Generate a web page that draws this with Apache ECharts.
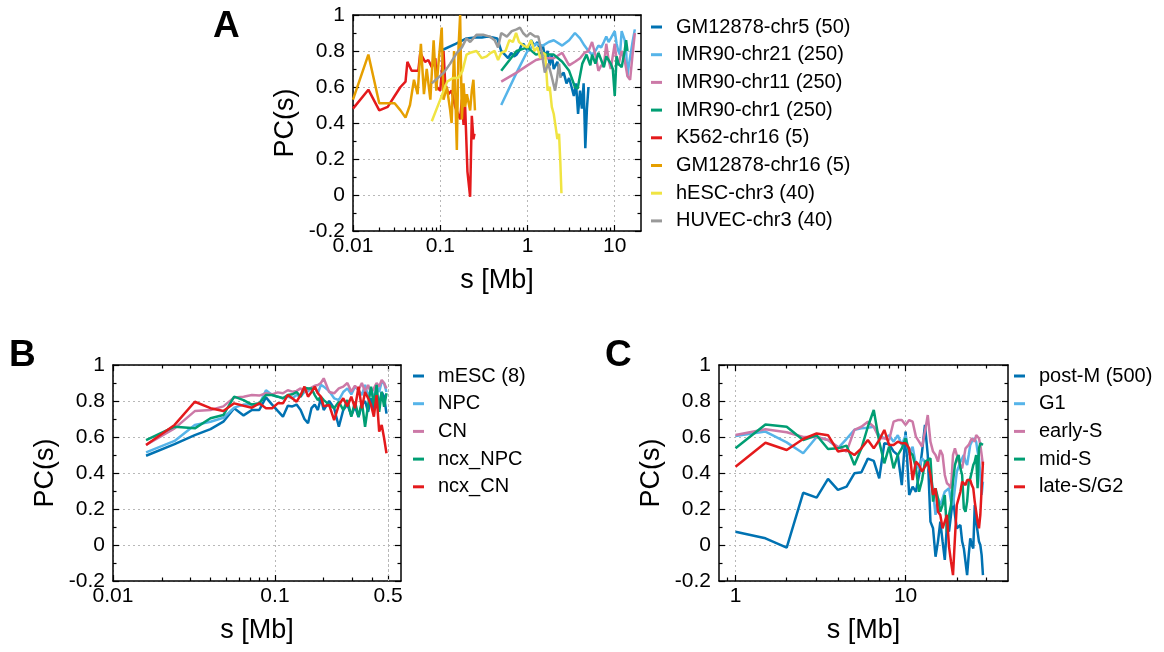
<!DOCTYPE html>
<html>
<head>
<meta charset="utf-8">
<script src="https://cdn.jsdelivr.net/npm/echarts@6/dist/echarts.min.js"></script>
<style>
html,body{margin:0;padding:0;background:#fff;}
#chart{width:1164px;height:652px;}
</style>
</head>
<body>
<div id="chart"></div>
<script>
// ---------- Panel A ----------
const gm5X = [0.10,0.15,0.20,0.25,0.30,0.35,0.40,0.45,0.50,0.55,0.60,0.65,0.70,0.75,0.80,0.85,0.90,0.95,1.00,1.10,1.20,1.30,1.40,1.50,1.60,1.70,1.80,1.90,2.00,2.20,2.40,2.60,2.80,3.00,3.20,3.40,3.60,3.80,4.00,4.20,4.40,4.60,4.80,5.00];
const gm5Y = [0.80,0.84,0.87,0.875,0.875,0.88,0.875,0.87,0.80,0.78,0.76,0.79,0.77,0.78,0.80,0.83,0.84,0.82,0.80,0.86,0.83,0.85,0.80,0.83,0.76,0.80,0.72,0.78,0.70,0.74,0.66,0.68,0.62,0.65,0.60,0.55,0.62,0.45,0.58,0.48,0.62,0.26,0.48,0.60];
const imr21X = [0.5,0.75,1,1.25,1.5,1.75,2,2.5,3,3.5,4,4.5,5,5.5,6,6.5,7,7.5,8,8.5,9,10,10.5,11,11.5,12,13,13.5,14,14.5,15,16,17];
const imr21Y = [0.50,0.68,0.80,0.84,0.83,0.85,0.86,0.83,0.86,0.90,0.87,0.83,0.80,0.78,0.80,0.83,0.82,0.85,0.88,0.85,0.87,0.91,0.84,0.80,0.78,0.91,0.86,0.80,0.66,0.72,0.71,0.85,0.92];
const imr11X = [0.5,0.75,1,1.25,1.5,1.75,2,2.5,3,3.5,4,4.5,5,5.5,6,6.5,7,7.5,8,8.5,9,10,10.5,11,12,13,14,15,16,17];
const imr11Y = [0.63,0.68,0.72,0.75,0.76,0.76,0.76,0.79,0.72,0.74,0.76,0.79,0.80,0.85,0.78,0.69,0.72,0.72,0.84,0.75,0.70,0.84,0.75,0.72,0.80,0.75,0.66,0.64,0.78,0.90];
const imr1X = [0.5,0.75,1,1.25,1.5,1.75,2,2.5,3,3.5,3.75,4.25,4.75,5.25,5.5,6,6.5,7,7.5,8,8.5,9,9.5,10,10.5,11,12,13,13.5,14];
const imr1Y = [0.69,0.80,0.82,0.78,0.79,0.78,0.78,0.74,0.69,0.60,0.59,0.73,0.78,0.72,0.78,0.73,0.79,0.75,0.71,0.77,0.75,0.73,0.70,0.55,0.77,0.73,0.71,0.80,0.86,0.80];
const k562X = [0.010,0.015,0.020,0.025,0.030,0.035,0.040,0.042,0.047,0.052,0.056,0.059,0.067,0.073,0.080,0.088,0.091,0.100,0.109,0.114,0.124,0.135,0.148,0.169,0.177,0.185,0.193,0.205,0.220,0.230,0.240,0.247];
const k562Y = [0.48,0.585,0.47,0.49,0.55,0.60,0.63,0.74,0.69,0.69,0.69,0.79,0.74,0.75,0.71,0.76,0.60,0.58,0.80,0.62,0.56,0.58,0.49,0.42,0.53,0.39,0.49,0.13,-0.01,0.44,0.31,0.34];
const gm16X = [0.010,0.015,0.020,0.025,0.030,0.035,0.040,0.045,0.050,0.055,0.060,0.065,0.070,0.077,0.084,0.090,0.095,0.104,0.109,0.119,0.130,0.135,0.144,0.155,0.162,0.169,0.177,0.185,0.193,0.202,0.220,0.230,0.240,0.250];
const gm16Y = [0.53,0.78,0.51,0.51,0.51,0.47,0.43,0.50,0.64,0.56,0.84,0.56,0.70,0.53,0.86,0.58,0.72,0.93,0.53,0.60,0.47,0.40,0.80,0.25,0.82,1.00,0.42,0.62,0.49,0.56,0.47,0.58,0.64,0.47];
const hescX = [0.08,0.10,0.12,0.14,0.16,0.18,0.20,0.22,0.26,0.30,0.34,0.38,0.42,0.46,0.50,0.56,0.62,0.68,0.74,0.80,0.90,1.00,1.10,1.20,1.30,1.40,1.50,1.60,1.70,1.80,1.90,2.00,2.10,2.20,2.30,2.38,2.45];
const hescY = [0.41,0.53,0.63,0.65,0.65,0.69,0.78,0.79,0.80,0.76,0.77,0.79,0.80,0.75,0.79,0.80,0.86,0.85,0.90,0.85,0.83,0.82,0.86,0.80,0.82,0.76,0.79,0.78,0.58,0.60,0.49,0.45,0.38,0.31,0.34,0.18,0.01];
const huvecX = [0.08,0.11,0.13,0.155,0.177,0.20,0.22,0.26,0.31,0.37,0.42,0.46,0.50,0.58,0.66,0.75,0.82,0.89,0.98,1.07,1.22,1.33,1.46,1.58,1.73,1.89,2.07,2.17,2.30,2.40];
const huvecY = [0.62,0.68,0.73,0.79,0.82,0.87,0.85,0.89,0.89,0.88,0.86,0.82,0.90,0.88,0.91,0.92,0.93,0.90,0.88,0.90,0.88,0.88,0.79,0.68,0.73,0.66,0.58,0.64,0.73,0.65];

// ---------- Panel B ----------
const xB = [0.016,0.024,0.032,0.040,0.048,0.056,0.064,0.072,0.080,0.088,0.096,0.104,0.112,0.120,0.128,0.136,0.144,0.152,0.160,0.168,0.176,0.184,0.192,0.200,0.216,0.232,0.248,0.264,0.280,0.296,0.312,0.328,0.344,0.360,0.376,0.392,0.408,0.424,0.440,0.456,0.472,0.488];
const mescY = [0.496,0.56,0.61,0.644,0.685,0.76,0.72,0.75,0.75,0.82,0.78,0.745,0.713,0.774,0.77,0.78,0.75,0.70,0.676,0.76,0.78,0.75,0.815,0.75,0.80,0.76,0.657,0.75,0.78,0.72,0.77,0.71,0.78,0.80,0.74,0.815,0.75,0.805,0.78,0.85,0.824,0.73];
const npcY = [0.515,0.578,0.667,0.685,0.707,0.763,0.78,0.78,0.78,0.86,0.833,0.824,0.815,0.824,0.815,0.833,0.824,0.85,0.854,0.87,0.88,0.843,0.89,0.88,0.855,0.815,0.805,0.85,0.87,0.837,0.88,0.86,0.833,0.89,0.824,0.87,0.805,0.889,0.85,0.907,0.898,0.85];
const cnY = [0.556,0.648,0.744,0.75,0.77,0.82,0.824,0.833,0.83,0.843,0.837,0.848,0.843,0.86,0.852,0.856,0.87,0.85,0.867,0.874,0.885,0.889,0.9,0.926,0.85,0.843,0.87,0.88,0.9,0.852,0.885,0.861,0.9,0.852,0.889,0.843,0.87,0.9,0.88,0.917,0.9,0.87];
const ncxNpcY = [0.583,0.657,0.648,0.704,0.722,0.824,0.805,0.78,0.787,0.833,0.833,0.824,0.815,0.833,0.837,0.85,0.824,0.874,0.87,0.87,0.833,0.805,0.824,0.805,0.78,0.76,0.796,0.75,0.805,0.713,0.796,0.713,0.796,0.657,0.778,0.88,0.778,0.889,0.74,0.85,0.768,0.843];
const ncxCnY = [0.556,0.667,0.796,0.76,0.744,0.787,0.774,0.763,0.787,0.76,0.76,0.787,0.787,0.833,0.815,0.796,0.833,0.88,0.824,0.85,0.88,0.843,0.824,0.77,0.778,0.694,0.778,0.815,0.77,0.824,0.76,0.88,0.76,0.85,0.815,0.778,0.713,0.833,0.63,0.667,0.593,0.51];

// ---------- Panel C ----------
const xC = [1,1.5,2,2.5,3,3.5,4,4.5,5,5.5,6,6.5,7,7.5,8,8.5,9,9.5,10,10.5,11,11.5,12,12.5,13,13.5,14,14.5,15,15.5,16,16.5,17,17.5,18,18.5,19,19.5,20,20.5,21,21.5,22,22.5,23,23.5,24,24.5,25,25.5,26,26.5,27,27.5,28,28.5];
const postMY = [0.074,0.037,-0.015,0.29,0.263,0.367,0.306,0.324,0.398,0.404,0.48,0.467,0.37,0.565,0.56,0.52,0.50,0.333,0.63,
  0.278,0.324,0.296,0.389,0.519,0.667,0.5,0.13,0.093,-0.065,0.019,0.13,0.02,-0.083,0.111,0.074,0.167,0.259,0.167,0.093,0.1,0.111,0.02,-0.019,-0.093,-0.167,-0.056,0.037,0,-0.019,0.222,0.13,0.074,0.019,0,-0.056,-0.167];
const g1Y = [0.605,0.63,0.57,0.51,0.60,0.583,0.537,0.59,0.64,0.648,0.652,0.657,0.61,0.593,0.61,0.574,0.61,0.556,0.61,
  0.5,0.546,0.444,0.426,0.481,0.463,0.435,0.407,0.296,0.167,0.259,0.222,0.259,0.296,0.306,0.315,0.241,0.222,0.315,0.407,0.435,0.463,0.481,0.5,0.463,0.444,0.5,0.556,0.574,0.593,0.583,0.574,0.519,0.481,0.389,0.278,0.352];
const earlySY = [0.611,0.643,0.626,0.60,0.60,0.583,0.546,0.519,0.64,0.657,0.685,0.657,0.593,0.593,0.583,0.685,0.694,0.694,0.667,
  0.694,0.685,0.602,0.574,0.546,0.63,0.722,0.574,0.519,0.5,0.463,0.528,0.5,0.389,0.343,0.333,0.315,0.5,0.537,0.5,0.463,0.444,0.426,0.481,0.537,0.546,0.556,0.565,0.593,0.602,0.574,0.611,0.615,0.593,0.556,0.5,0.444];
const midSY = [0.537,0.67,0.657,0.583,0.61,0.533,0.537,0.552,0.444,0.537,0.657,0.75,0.574,0.454,0.546,0.426,0.5,0.537,0.593,
  0.519,0.5,0.426,0.296,0.361,0.463,0.472,0.481,0.241,0.315,0.259,0.185,0.222,0.278,0.074,0.167,0.222,0.352,0.444,0.481,0.5,0.426,0.389,0.204,0.185,0.241,0.352,0.37,0.407,0.444,0.463,0.5,0.315,0.537,0.565,0.565,0.556];
const lateSY = [0.435,0.568,0.528,0.589,0.62,0.61,0.52,0.528,0.5,0.537,0.583,0.537,0.583,0.639,0.556,0.556,0.574,0.565,0.565,
  0.537,0.361,0.463,0.444,0.407,0.435,0.463,0.389,0.278,0.315,0.185,0.167,0.093,0.13,0.167,-0.009,-0.093,-0.167,0.037,0.222,0.259,0.296,0.352,0.361,0.333,0.361,0.352,0.361,0.333,0.315,0.241,0.185,0.13,0.093,0.167,0.315,0.463];

// ---------- tick values ----------
const majorA = [0.01,0.1,1,10];
const minorA = [0.02,0.03,0.04,0.05,0.06,0.07,0.08,0.09,0.2,0.3,0.4,0.5,0.6,0.7,0.8,0.9,2,3,4,5,6,7,8,9];
const majorB = [0.01,0.1,0.5];
const minorB = [0.02,0.03,0.04,0.05,0.06,0.07,0.08,0.09,0.2,0.3,0.4];
const gridExtraB = [0.5];
const majorC = [1,10];
const minorC = [0.9,2,3,4,5,6,7,8,9,20,30];

const FONT = '"Liberation Sans", Arial, Helvetica, sans-serif';
const C = {blue:'#0072B2', sky:'#56B4E9', pink:'#CC79A7', green:'#009E73', red:'#E41A1C', orange:'#E69F00', yellow:'#F0E442', gray:'#999999'};

function zip(xs, ys){ return xs.map((x,i)=>[x, ys[i]]); }
function fmt(v){ return String(parseFloat(Number(v).toPrecision(6))); }

const frame = {color:'#000', width:1.5};
const dotted = {color:'#b8b8b8', width:1, type:[2,3]};

function xAxes(g, min, max, majors, minors){
  const base = {type:'log', logBase:10, gridIndex:g, min:min, max:max, splitLine:{show:false}, minorTick:{show:false}, minorSplitLine:{show:false}};
  return [
    Object.assign({}, base, {position:'bottom', name:'s [Mb]', nameLocation:'middle', nameGap:36,
      nameTextStyle:{fontSize:27, color:'#000', fontFamily:FONT},
      axisLine:{show:true, onZero:false, lineStyle:frame},
      axisTick:{show:true, inside:true, length:6, customValues:majors, lineStyle:{color:'#000', width:1.2}},
      axisLabel:{show:true, customValues:majors, fontSize:21, color:'#000', fontFamily:FONT, margin:5, formatter:fmt},
      splitLine:{show:true, lineStyle:dotted}}),
    Object.assign({}, base, {position:'bottom', axisLine:{show:false, onZero:false},
      axisTick:{show:true, inside:true, length:3.5, customValues:minors, lineStyle:{color:'#000', width:1.2}},
      axisLabel:{show:false}}),
    Object.assign({}, base, {position:'top', axisLine:{show:true, onZero:false, lineStyle:frame},
      axisTick:{show:true, inside:true, length:6, customValues:majors, lineStyle:{color:'#000', width:1.2}},
      axisLabel:{show:false}}),
    Object.assign({}, base, {position:'top', axisLine:{show:false, onZero:false},
      axisTick:{show:true, inside:true, length:3.5, customValues:minors, lineStyle:{color:'#000', width:1.2}},
      axisLabel:{show:false}})
  ];
}
function yAxes(g){
  const base = {type:'value', gridIndex:g, min:-0.2, max:1, interval:0.2};
  return [
    Object.assign({}, base, {position:'left', name:'PC(s)', nameLocation:'middle', nameGap:54,
      nameTextStyle:{fontSize:27, color:'#000', fontFamily:FONT},
      axisLine:{show:true, onZero:false, lineStyle:frame},
      axisTick:{show:true, inside:true, length:6, lineStyle:{color:'#000', width:1.2}},
      minorTick:{show:true, splitNumber:2, length:3.5, lineStyle:{color:'#000', width:1.2}},
      axisLabel:{fontSize:21, color:'#000', fontFamily:FONT, margin:8},
      splitLine:{show:true, lineStyle:dotted}}),
    Object.assign({}, base, {position:'right',
      axisLine:{show:true, onZero:false, lineStyle:frame},
      axisTick:{show:true, inside:true, length:6, lineStyle:{color:'#000', width:1.2}},
      minorTick:{show:true, splitNumber:2, length:3.5, lineStyle:{color:'#000', width:1.2}},
      axisLabel:{show:false}, splitLine:{show:false}})
  ];
}

function line(name, data, color, xi, yi){
  return {type:'line', name:name, data:data, xAxisIndex:xi, yAxisIndex:yi, showSymbol:false, symbol:'none',
    lineStyle:{color:color, width:2.5}, itemStyle:{color:color}, clip:true, animation:false, z:3};
}
function legend(left, top, names){
  return {orient:'vertical', left:left, top:top, padding:0, icon:'rect', itemWidth:11, itemHeight:3, itemGap:7.7,
    data:names, selectedMode:false,
    textStyle:{fontSize:20, color:'#000', fontFamily:FONT, lineHeight:20, padding:[0,0,0,9]}};
}

const namesA = ['GM12878-chr5 (50)','IMR90-chr21 (250)','IMR90-chr11 (250)','IMR90-chr1 (250)','K562-chr16 (5)','GM12878-chr16 (5)','hESC-chr3 (40)','HUVEC-chr3 (40)'];
const namesB = ['mESC (8)','NPC','CN','ncx_NPC','ncx_CN'];
const namesC = ['post-M (500)','G1','early-S','mid-S','late-S/G2'];

const seriesB0 = line(namesB[0], zip(xB, mescY), C.blue, 4, 2);
seriesB0.markLine = {silent:true, symbol:['none','none'], label:{show:false}, animation:false,
  lineStyle:dotted, emphasis:{disabled:true}, data:gridExtraB.map(v=>({xAxis:v}))};

const option = {
  backgroundColor:'#fff',
  animation:false,
  grid:[
    {left:353, top:15, width:288, height:216},
    {left:113, top:365, width:288, height:216},
    {left:719, top:365, width:289, height:216}
  ],
  xAxis:[].concat(xAxes(0, 0.01, 20, majorA, minorA), xAxes(1, 0.01, 0.6, majorB, minorB), xAxes(2, 0.8, 40, majorC, minorC)),
  yAxis:[].concat(yAxes(0), yAxes(1), yAxes(2)),
  legend:[legend(651, 17, namesA), legend(413, 366, namesB), legend(1014, 366, namesC)],
  series:[
    line(namesA[0], zip(gm5X, gm5Y), C.blue, 0, 0),
    line(namesA[1], zip(imr21X, imr21Y), C.sky, 0, 0),
    line(namesA[2], zip(imr11X, imr11Y), C.pink, 0, 0),
    line(namesA[3], zip(imr1X, imr1Y), C.green, 0, 0),
    line(namesA[4], zip(k562X, k562Y), C.red, 0, 0),
    line(namesA[5], zip(gm16X, gm16Y), C.orange, 0, 0),
    line(namesA[6], zip(hescX, hescY), C.yellow, 0, 0),
    line(namesA[7], zip(huvecX, huvecY), C.gray, 0, 0),
    seriesB0,
    line(namesB[1], zip(xB, npcY), C.sky, 4, 2),
    line(namesB[2], zip(xB, cnY), C.pink, 4, 2),
    line(namesB[3], zip(xB, ncxNpcY), C.green, 4, 2),
    line(namesB[4], zip(xB, ncxCnY), C.red, 4, 2),
    line(namesC[0], zip(xC, postMY), C.blue, 8, 4),
    line(namesC[1], zip(xC, g1Y), C.sky, 8, 4),
    line(namesC[2], zip(xC, earlySY), C.pink, 8, 4),
    line(namesC[3], zip(xC, midSY), C.green, 8, 4),
    line(namesC[4], zip(xC, lateSY), C.red, 8, 4)
  ],
  graphic:[
    {type:'text', left:213, top:8, style:{text:'A', font:'bold 37px ' + FONT, fill:'#000'}},
    {type:'text', left:9, top:337, style:{text:'B', font:'bold 37px ' + FONT, fill:'#000'}},
    {type:'text', left:605, top:337, style:{text:'C', font:'bold 37px ' + FONT, fill:'#000'}}
  ]
};

const chart = echarts.init(document.getElementById('chart'), null, {renderer:'canvas'});
chart.setOption(option);
</script>
</body>
</html>
